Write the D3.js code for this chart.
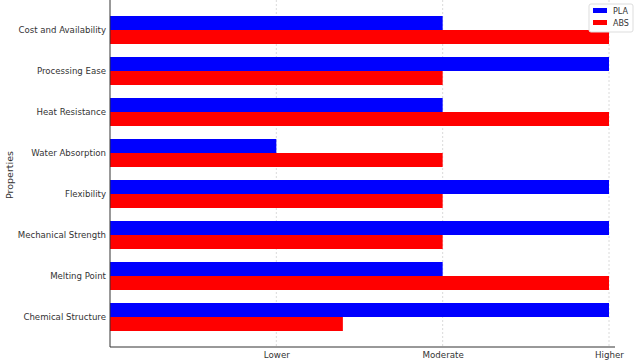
<!DOCTYPE html>
<html><head><meta charset="utf-8">
<script src="https://cdn.jsdelivr.net/npm/d3@7"></script>
<style>body{margin:0;background:#fff}svg{display:block}</style>
</head><body>
<script>
const categories = ["Chemical Structure","Melting Point","Mechanical Strength","Flexibility","Water Absorption","Heat Resistance","Processing Ease","Cost and Availability"];
const plaValues = [3,2,3,3,1,2,3,2];
const absValues = [1.4,3,2,2,2,3,2,3];
const tickValues = [1,2,3];
const tickLabels = ["Lower","Moderate","Higher"];
const seriesNames = ["PLA","ABS"];
const colors = ["#0000ff","#ff0000"];

const W=640,H=363;
const svg=d3.select("body").append("svg").attr("width",W).attr("height",H);
const font="DejaVu Sans, sans-serif";
const x=d3.scaleLinear().domain([0,3]).range([110,609]);
const y=d3.scaleLinear().domain([0,7]).range([317,30]);
const bh=14;
const axisBottom=347;

svg.append("g").selectAll("line").data(tickValues).join("line")
 .attr("x1",d=>x(d)).attr("x2",d=>x(d)).attr("y1",0).attr("y2",axisBottom)
 .attr("stroke","#d0d0d0").attr("stroke-width",0.8).attr("stroke-dasharray","2,2");

const g=svg.append("g");
categories.forEach((c,i)=>{
  g.append("rect").attr("x",x(0)).attr("y",y(i)-bh).attr("width",x(plaValues[i])-x(0)).attr("height",bh).attr("fill",colors[0]);
  g.append("rect").attr("x",x(0)).attr("y",y(i)).attr("width",x(absValues[i])-x(0)).attr("height",bh).attr("fill",colors[1]);
});

const xa=svg.append("g").attr("transform",`translate(0,${axisBottom})`)
 .call(d3.axisBottom(x).tickValues(tickValues).tickFormat((d,i)=>tickLabels[i]).tickSize(0).tickPadding(5));
xa.select(".domain").attr("d",`M110,0H615`).attr("stroke","#333");
xa.selectAll("text").attr("font-family",font).attr("font-size",8.7).attr("fill","#333");

const ya=svg.append("g").attr("transform",`translate(110,0)`)
 .call(d3.axisLeft(y).tickValues(d3.range(categories.length)).tickFormat(i=>categories[i]).tickSize(0).tickPadding(4));
ya.select(".domain").attr("d",`M0,0V${axisBottom}`).attr("stroke","#333");
ya.selectAll("text").attr("font-family",font).attr("font-size",8.6).attr("fill","#333");

svg.append("text").attr("transform","translate(13,175) rotate(-90)").attr("text-anchor","middle")
 .attr("font-family",font).attr("font-size",9.5).attr("fill","#333").text("Properties");

const lg=svg.append("g");
lg.append("rect").attr("x",589).attr("y",4).attr("width",44).attr("height",28).attr("fill","#fff").attr("stroke","#ddd").attr("rx",2);
seriesNames.forEach((s,i)=>{
  lg.append("rect").attr("x",593).attr("y",8+i*12).attr("width",14).attr("height",5).attr("fill",colors[i]);
  lg.append("text").attr("x",613).attr("y",14+i*12).attr("font-family",font).attr("font-size",8).attr("fill","#333").text(s);
});
</script>
</body></html>
